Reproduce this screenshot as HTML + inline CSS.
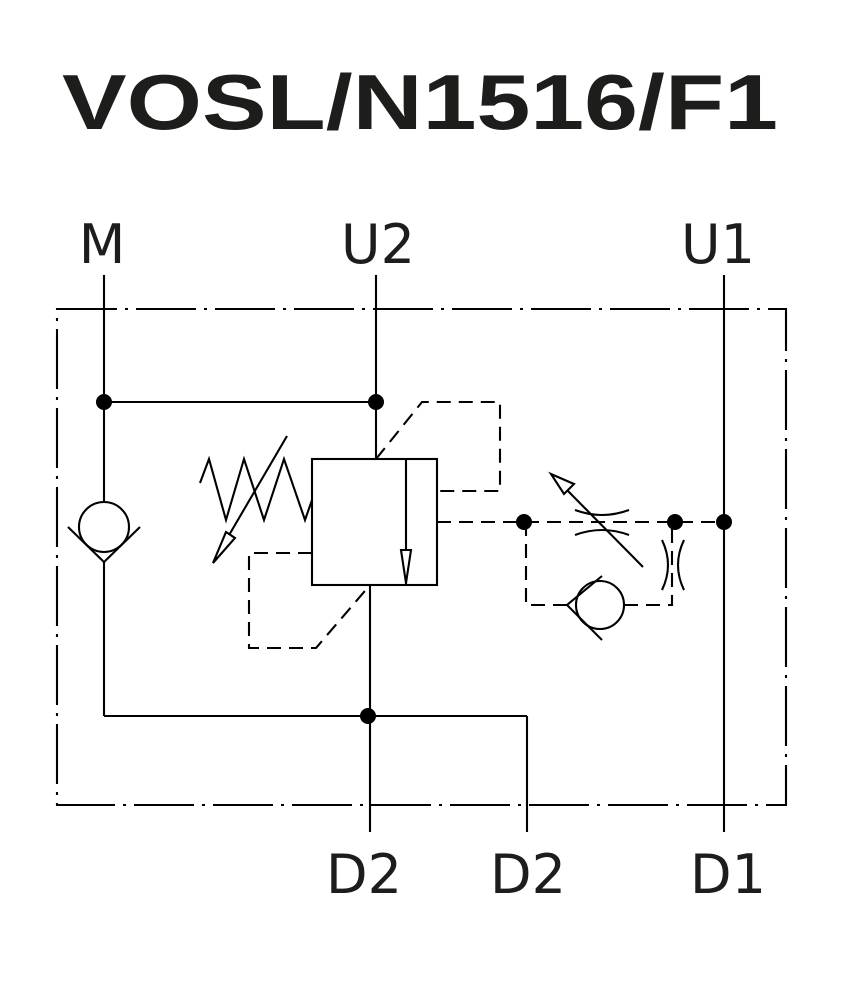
<!DOCTYPE html>
<html><head><meta charset="utf-8"><style>
html,body{margin:0;padding:0;background:#fff;}
svg{display:block;}
</style></head><body>
<svg width="850" height="1000" viewBox="0 0 850 1000" xmlns="http://www.w3.org/2000/svg">
<rect width="850" height="1000" fill="#fff"/>
<text x="62" y="129" font-family="Liberation Sans, sans-serif" font-weight="bold" font-size="78" fill="#1d1d1b" textLength="716" lengthAdjust="spacingAndGlyphs">VOSL/N1516/F1</text>
<g font-family="DejaVu Sans, Liberation Sans, sans-serif" font-size="54" fill="#1d1d1b" text-anchor="middle">
<text x="102" y="263">M</text>
<text x="378" y="263">U2</text>
<text x="718" y="263">U1</text>
<text x="364" y="893">D2</text>
<text x="528" y="893">D2</text>
<text x="728" y="893">D1</text>
</g>
<g stroke="#000" fill="none" stroke-width="2.1">
<rect x="57" y="309" width="729" height="496" stroke-dasharray="60,8,3,8"/>
<line x1="104" y1="275" x2="104" y2="502"/>
<circle cx="104" cy="527" r="25"/>
<polyline points="68,527 104,562 140,527"/>
<line x1="104" y1="562" x2="104" y2="716"/>
<line x1="104" y1="402" x2="376" y2="402"/>
<line x1="376" y1="275" x2="376" y2="459"/>
<rect x="312" y="459" width="125" height="126"/>
<line x1="406" y1="459" x2="406" y2="585"/>
<polygon points="401,550 411,550 406,583" fill="#fff"/>
<line x1="370" y1="585" x2="370" y2="832"/>
<line x1="104" y1="716" x2="527" y2="716"/>
<line x1="527" y1="716" x2="527" y2="832"/>
<line x1="724" y1="275" x2="724" y2="832"/>
<polyline points="200,483 209,459 226,520 244,459 264,520 284,459 305,520 312,500"/>
<line x1="287" y1="436" x2="225" y2="542"/>
<polygon points="226,532 235,538 213,563" fill="#fff"/>
<g stroke-dasharray="14,8">
<polyline points="376,459 422,402 500,402 500,491 437,491"/>
<polyline points="312,553 249,553 249,648 316,648 370,585"/>
<line x1="437" y1="522" x2="724" y2="522"/>
<polyline points="526,522 526,605 567,605"/>
<polyline points="624,605 672,605 672,522"/>
</g>
<path d="M575,510 Q602,520 629,510"/>
<path d="M575,535 Q602,525 629,535"/>
<line x1="643" y1="567" x2="566" y2="489"/>
<polygon points="551,474 574,484 564,494" fill="#fff"/>
<path d="M662,540 Q674,565 662,590"/>
<path d="M684,540 Q672,565 684,590"/>
<circle cx="600" cy="605" r="24"/>
<polyline points="602,576 567,605 602,640"/>
</g>
<g fill="#000">
<circle cx="104" cy="402" r="8"/>
<circle cx="376" cy="402" r="8"/>
<circle cx="368" cy="716" r="8"/>
<circle cx="524" cy="522" r="8"/>
<circle cx="675" cy="522" r="8"/>
<circle cx="724" cy="522" r="8"/>
</g>
</svg>
</body></html>
